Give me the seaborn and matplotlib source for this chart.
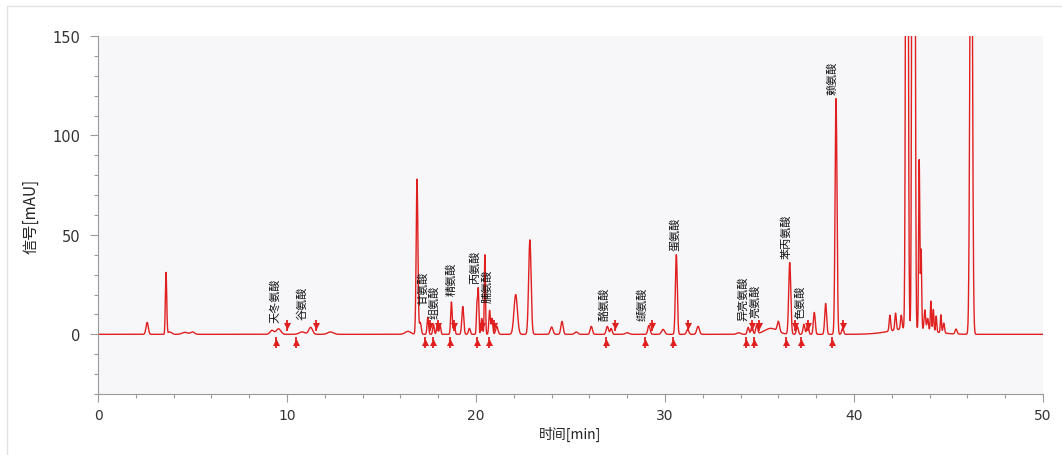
import numpy as np
import pandas as pd
import matplotlib
matplotlib.use("Agg")
import matplotlib.pyplot as plt
from matplotlib.lines import Line2D
from matplotlib.ticker import MultipleLocator
import seaborn as sns

# ---------------- data ----------------
# peak table: retention time [min], apex height [mAU], peak sigma [min]
peak_time = [2.6, 3.6, 3.8, 4.6, 5.0, 9.2, 9.55, 10.8, 11.25, 12.3,
             16.4, 16.88, 17.05, 17.45, 17.75, 17.95, 18.1, 18.7, 18.85, 19.3,
             19.65, 20.05, 20.12, 20.3, 20.47, 20.72, 20.85, 21.1, 22.1, 22.85,
             24.0, 24.55, 25.3, 26.1, 26.95, 27.15, 28.0, 29.15, 29.9, 30.6,
             31.2, 31.75, 33.9, 34.4, 34.6, 34.85, 35.6, 36.0, 36.6, 37.0,
             37.35, 37.55, 37.9, 38.5, 39.05, 39.4, 43.0, 41.9, 42.2, 42.5,
             42.8, 43.1, 43.2, 43.45, 43.55, 43.75, 43.9, 44.07, 44.2, 44.35,
             44.6, 44.75, 45.4, 46.2]
peak_height = [6, 31, 1.2, 1.0, 1.2, 2.0, 2.8, 1.2, 3.5, 1.2,
               1.5, 78, 6, 8.5, 5, 5, 4.5, 16.3, 5.5, 14,
               3, 15, 22.5, 8, 40, 12, 8, 4, 20, 47.5,
               3.7, 6.5, 1.2, 4, 4, 3, 0.8, 4.5, 2.5, 40,
               2.5, 4, 0.8, 3.5, 4, 4.5, 3, 5, 36, 4,
               5, 5, 11, 15.5, 118.5, 3, 3, 8, 8.5, 7,
               600, 400, 350, 85, 40, 10, 6, 15, 11, 8,
               9, 5, 2.5, 300]
peak_sigma = [0.06, 0.035, 0.1, 0.15, 0.1, 0.1, 0.12, 0.15, 0.1, 0.15,
              0.15, 0.045, 0.05, 0.04, 0.04, 0.04, 0.04, 0.04, 0.04, 0.05,
              0.05, 0.03, 0.03, 0.04, 0.03, 0.04, 0.04, 0.06, 0.09, 0.065,
              0.07, 0.06, 0.08, 0.06, 0.06, 0.05, 0.1, 0.06, 0.08, 0.05,
              0.06, 0.07, 0.1, 0.05, 0.05, 0.05, 0.35, 0.06, 0.055, 0.05,
              0.05, 0.05, 0.05, 0.05, 0.05, 0.05, 1.0, 0.04, 0.04, 0.04,
              0.05, 0.04, 0.04, 0.03, 0.03, 0.04, 0.04, 0.03, 0.03, 0.03,
              0.03, 0.04, 0.05, 0.06]

# identified peaks: name, label x [min], label bottom [mAU]
label_names = ["天冬氨酸", "谷氨酸", "甘氨酸", "组氨酸", "精氨酸", "丙氨酸", "脯氨酸",
               "酪氨酸", "缬氨酸", "蛋氨酸", "异亮氨酸", "亮氨酸", "苯丙氨酸", "色氨酸", "赖氨酸"]
label_x = [9.37, 10.8, 17.2, 17.8, 18.7, 19.95, 20.58,
           26.8, 28.8, 30.5, 34.1, 34.75, 36.4, 37.15, 38.85]
label_y = [6.2, 7.5, 15, 8, 19.7, 25.7, 16.3,
           7, 7, 42.4, 7, 8.6, 38.4, 8, 120.7]
# integration start / end of each identified peak [min]
peak_start = [9.4, 10.5, 17.3, 17.75, 18.6, 20.05, 20.7,
              26.9, 28.95, 30.4, 34.3, 34.7, 36.4, 37.2, 38.85]
peak_end = [10.0, 11.55, 17.55, 18.0, 18.85, 20.3, 20.95,
            27.35, 29.3, 31.2, 34.6, 35.0, 36.9, 37.55, 39.4]

x_ticks = [0, 10, 20, 30, 40, 50]
y_ticks = [0, 50, 100, 150]

# ---------------- build trace ----------------
t = np.linspace(0, 50, 5001)
sig = np.zeros_like(t)
for t0, h, s in zip(peak_time, peak_height, peak_sigma):
    sig += h * np.exp(-0.5 * ((t - t0) / s) ** 2)
trace = pd.DataFrame({"time": t, "signal": sig})

# ---------------- style ----------------
sns.set_theme(style="ticks")
plt.rcParams["font.family"] = ["Noto Sans CJK SC", "DejaVu Sans"]

RED = "#e01f1f"
fig = plt.figure(figsize=(10.62, 4.56), dpi=100)
fig.patch.set_facecolor("white")
ax = fig.add_axes([0.0923, 0.1338, 0.8898, 0.785])
ax.set_facecolor("#f7f7fa")

sns.lineplot(data=trace, x="time", y="signal", ax=ax, color=RED, lw=1.0,
             estimator=None, sort=False)

# start / end markers
starts = pd.DataFrame({"time": peak_start, "y": [-4.0] * len(peak_start)})
ends = pd.DataFrame({"time": peak_end, "y": [4.0] * len(peak_end)})
ax.vlines(starts["time"], -7, -1.5, color=RED, lw=1.3)
ax.vlines(ends["time"], 1.5, 7, color=RED, lw=1.3)
sns.scatterplot(data=starts, x="time", y="y", ax=ax, marker="^", s=26,
                color=RED, edgecolor=RED, linewidth=0)
sns.scatterplot(data=ends, x="time", y="y", ax=ax, marker="v", s=26,
                color=RED, edgecolor=RED, linewidth=0)

for name, lx, ly in zip(label_names, label_x, label_y):
    ax.text(lx, ly, name, rotation=90, ha="center", va="bottom", fontsize=8,
            color="#111111", family=["Noto Sans CJK SC", "DejaVu Sans"])

ax.set_xlim(0, 50)
ax.set_ylim(-30, 150)
ax.set_xticks(x_ticks)
ax.set_yticks(y_ticks)
ax.xaxis.set_minor_locator(MultipleLocator(2))
ax.yaxis.set_minor_locator(MultipleLocator(10))
ax.tick_params(axis="both", which="major", length=6, width=0.8, color="#9a9a9a",
               labelcolor="#333333")
ax.tick_params(axis="both", which="minor", length=3, width=0.8, color="#9a9a9a")
ax.tick_params(axis="y", labelsize=10.5, pad=7)
ax.tick_params(axis="x", labelsize=10, pad=4)
for lab in ax.get_xticklabels() + ax.get_yticklabels():
    lab.set_family(["DejaVu Sans"])

for side in ["top", "right"]:
    ax.spines[side].set_visible(False)
for side in ["left", "bottom"]:
    ax.spines[side].set_color("#9a9a9a")
    ax.spines[side].set_linewidth(0.8)

ax.set_xlabel("时间[min]", fontsize=10, color="#222222", labelpad=3)
ax.set_ylabel("信号[mAU]", fontsize=11, color="#222222", labelpad=9)

# faint frame of the report panel
fig.add_artist(Line2D([7 / 1062, 1.0], [1 - 7 / 456, 1 - 7 / 456], color="#e2e2e2", lw=1,
                      transform=fig.transFigure))
fig.add_artist(Line2D([7 / 1062, 7 / 1062], [0, 1 - 7 / 456], color="#e2e2e2", lw=1,
                      transform=fig.transFigure))

fig.savefig("out.png", dpi=100)
